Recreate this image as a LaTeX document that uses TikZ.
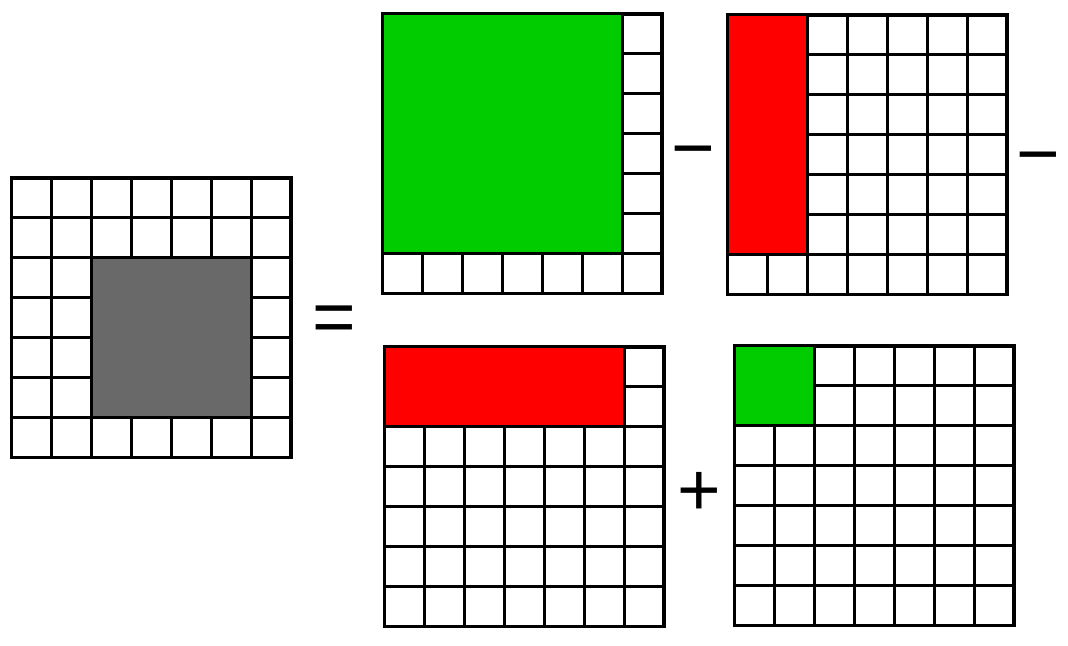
\documentclass[tikz,border=0pt]{standalone}
\usepackage{fontspec}
\setmainfont{Liberation Sans}
\usetikzlibrary{positioning}

\definecolor{cellgreen}{HTML}{00CC00}
\definecolor{cellred}{HTML}{FF0000}
\definecolor{cellgray}{HTML}{696969}

\tikzset{
  cellline/.style={black, line width=2.25pt},
  opsign/.style={font=\fontsize{56}{56}\selectfont, inner sep=0pt, anchor=base}
}

\begin{document}
\begin{tikzpicture}[x=0.75pt, y=0.75pt]
    \useasboundingbox (0,0) rectangle (1068,646);

    % Ring (left) 7x7 with gray core
    \begin{scope}[shift={(11,188)}, x=30pt, y=30pt]
        \draw[cellline, step=30pt] (0,0) grid (7,7);
        \draw[cellline] (0,0) rectangle (7,7);
        \draw[cellline, fill=cellgray] (2,1) rectangle (6,5);
    \end{scope}

    % Top middle: green 6x6 block
    \begin{scope}[shift={(382,352)}, x=30pt, y=30pt]
        \draw[cellline, step=30pt] (0,0) grid (7,7);
        \draw[cellline] (0,0) rectangle (7,7);
        \draw[cellline, fill=cellgreen] (0,1) rectangle (6,7);
    \end{scope}

    % Top right: red 2x6 strip
    \begin{scope}[shift={(727,351)}, x=30pt, y=30pt]
        \draw[cellline, step=30pt] (0,0) grid (7,7);
        \draw[cellline] (0,0) rectangle (7,7);
        \draw[cellline, fill=cellred] (0,1) rectangle (2,7);
    \end{scope}

    % Bottom middle: red 6x2 strip
    \begin{scope}[shift={(384,19)}, x=30pt, y=30pt]
        \draw[cellline, step=30pt] (0,0) grid (7,7);
        \draw[cellline] (0,0) rectangle (7,7);
        \draw[cellline, fill=cellred] (0,5) rectangle (6,7);
    \end{scope}

    % Bottom right: green 2x2 block
    \begin{scope}[shift={(734,20)}, x=30pt, y=30pt]
        \draw[cellline, step=30pt] (0,0) grid (7,7);
        \draw[cellline] (0,0) rectangle (7,7);
        \draw[cellline, fill=cellgreen] (0,5) rectangle (2,7);
    \end{scope}

    % Operators
    \node[opsign] (eq) at (334.5,303) {=};
    \node[opsign] (minusa) at (693.5,472) {−};
    \node[opsign] (minusb) at (1038.5,466) {−};
    \node[opsign] (plus) at (699,130) {+};

\end{tikzpicture}
\end{document}
